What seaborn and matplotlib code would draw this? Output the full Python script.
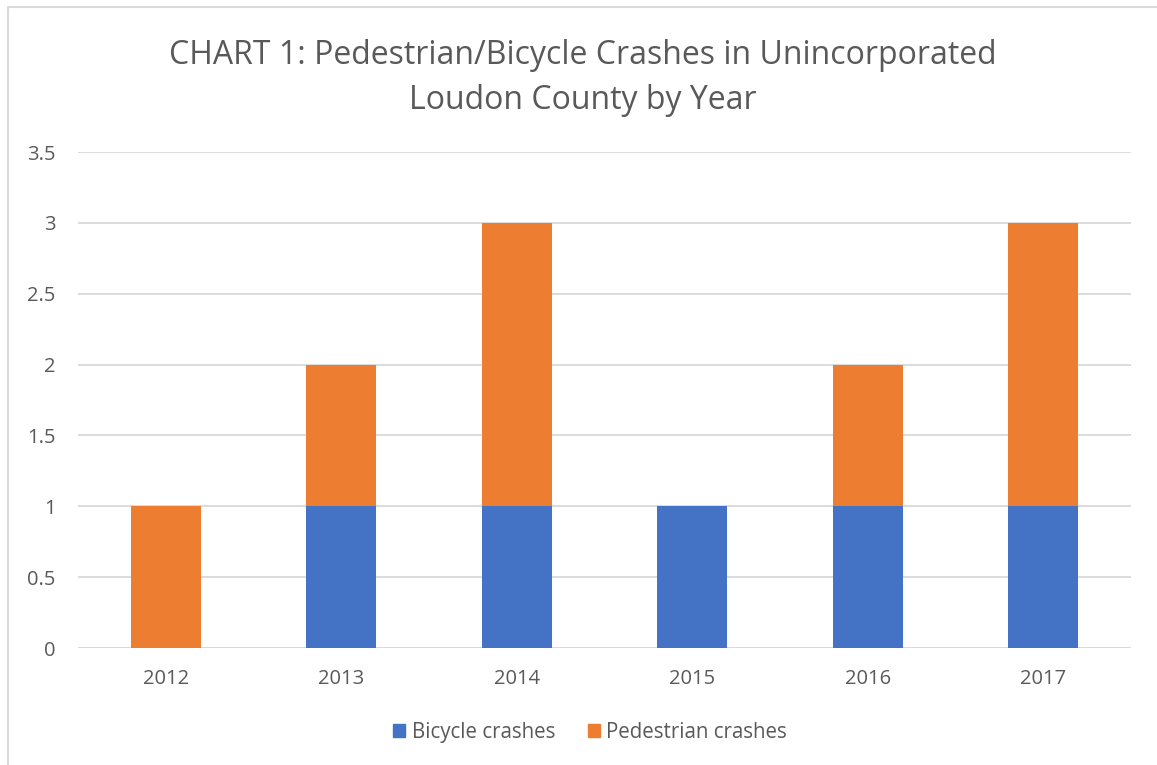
import matplotlib
matplotlib.use("Agg")
import matplotlib.pyplot as plt
import seaborn as sb
import pandas as pd
from matplotlib.patches import Patch
from matplotlib.lines import Line2D

years = ["2012", "2013", "2014", "2015", "2016", "2017"]
bicycle = [0, 1, 1, 1, 1, 1]
pedestrian = [1, 1, 2, 0, 1, 2]
y_ticks = [0, 0.5, 1, 1.5, 2, 2.5, 3, 3.5]
y_tick_labels = ["0", "0.5", "1", "1.5", "2", "2.5", "3", "3.5"]

title = "CHART 1: Pedestrian/Bicycle Crashes in Unincorporated\nLoudon County by Year"

blue = "#4472C4"
orange = "#ED7D31"
text_gray = "#595959"
grid_gray = "#D9D9D9"

df = pd.DataFrame({"year": years, "bicycle": bicycle, "pedestrian": pedestrian})
df["total"] = df["bicycle"] + df["pedestrian"]

sb.set_theme(style="white")
plt.rcParams["font.family"] = ["Open Sans", "DejaVu Sans"]

fig = plt.figure(figsize=(11.57, 7.65), dpi=100)
ax = fig.add_axes([0.0674, 0.1529, 0.9101, 0.6484])

# stacked bars: totals (orange) behind, bicycle (blue) in front
sb.barplot(data=df, x="year", y="total", color=orange, saturation=1,
           width=0.4, linewidth=0, ax=ax, zorder=3)
sb.barplot(data=df, x="year", y="bicycle", color=blue, saturation=1,
           width=0.4, linewidth=0, ax=ax, zorder=4)

ax.set_xlim(-0.5, len(years) - 0.5)
ax.set_ylim(0, 3.5)
ax.set_yticks(y_ticks)
ax.set_yticklabels(y_tick_labels)
ax.yaxis.grid(True, color=grid_gray, linewidth=1.3, zorder=0)
ax.set_axisbelow(True)
for s in ax.spines.values():
    s.set_visible(False)
ax.axhline(0, color=grid_gray, linewidth=1.3, zorder=2)
ax.tick_params(axis="both", length=0, labelsize=14.5, labelcolor=text_gray)
ax.tick_params(axis="y", pad=16)
ax.tick_params(axis="x", pad=15)
ax.set_xlabel("")
ax.set_ylabel("")

fig.text(0.504, 0.898, title, ha="center", va="center", fontsize=23,
         color=text_gray, linespacing=1.5)

handles = [Patch(color=blue, label="Bicycle crashes"),
           Patch(color=orange, label="Pedestrian crashes")]
fig.legend(handles=handles, loc="center", bbox_to_anchor=(0.51, 0.043),
           ncol=2, frameon=False, fontsize=14.8, labelcolor=text_gray,
           handlelength=0.6, handleheight=0.6, handletextpad=0.3,
           columnspacing=1.6)

# chart frame
fig.add_artist(Line2D([8 / 1157, 1], [1 - 7 / 765, 1 - 7 / 765],
                      color=grid_gray, linewidth=1.5))
fig.add_artist(Line2D([8 / 1157, 8 / 1157], [0, 1 - 7 / 765],
                      color=grid_gray, linewidth=1.5))

fig.savefig("out.png", dpi=100)
plt.close()
